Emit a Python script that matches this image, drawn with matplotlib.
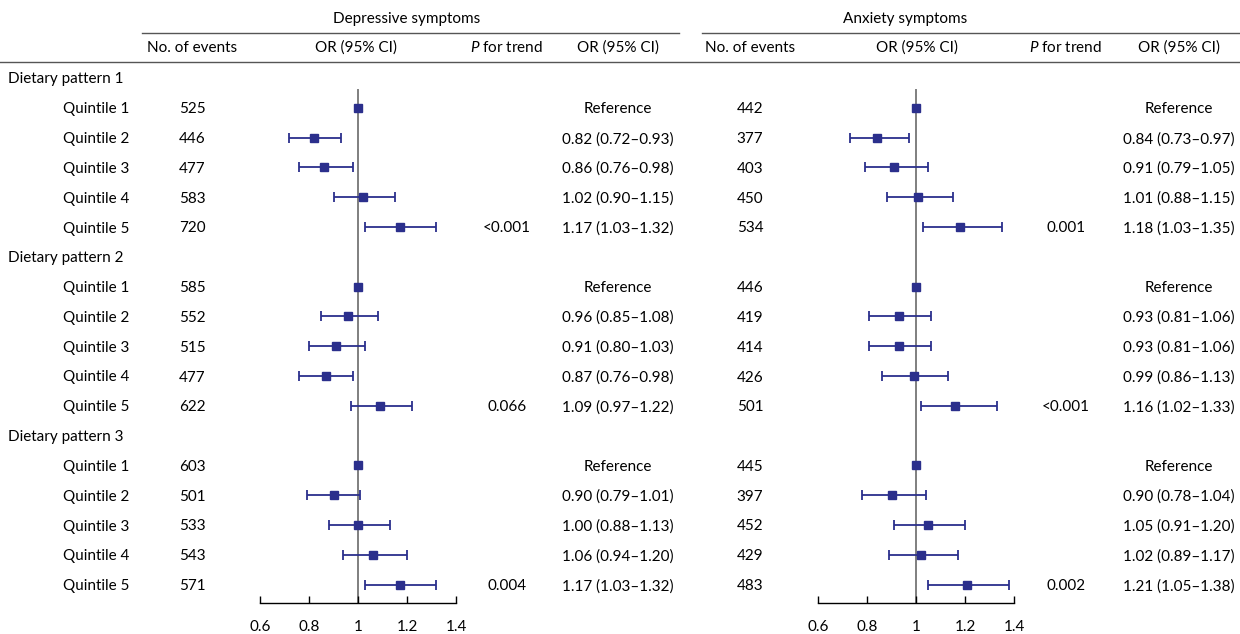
import matplotlib
matplotlib.use('Agg')
import matplotlib.pyplot as plt
import numpy as np

plt.rcParams['font.family'] = ['Lato', 'DejaVu Sans']
plt.rcParams['mathtext.fontset'] = 'custom'
plt.rcParams['mathtext.rm'] = 'Lato'
plt.rcParams['mathtext.it'] = 'Lato:italic'

patterns = ['Dietary pattern 1', 'Dietary pattern 2', 'Dietary pattern 3']
quintiles = ['Quintile 1', 'Quintile 2', 'Quintile 3', 'Quintile 4', 'Quintile 5']

# depressive symptoms
dep_events = [[525, 446, 477, 583, 720], [585, 552, 515, 477, 622], [603, 501, 533, 543, 571]]
dep_or = [[1.00, 0.82, 0.86, 1.02, 1.17], [1.00, 0.96, 0.91, 0.87, 1.09], [1.00, 0.90, 1.00, 1.06, 1.17]]
dep_lo = [[1.00, 0.72, 0.76, 0.90, 1.03], [1.00, 0.85, 0.80, 0.76, 0.97], [1.00, 0.79, 0.88, 0.94, 1.03]]
dep_hi = [[1.00, 0.93, 0.98, 1.15, 1.32], [1.00, 1.08, 1.03, 0.98, 1.22], [1.00, 1.01, 1.13, 1.20, 1.32]]
dep_p = ['<0.001', '0.066', '0.004']

# anxiety symptoms
anx_events = [[442, 377, 403, 450, 534], [446, 419, 414, 426, 501], [445, 397, 452, 429, 483]]
anx_or = [[1.00, 0.84, 0.91, 1.01, 1.18], [1.00, 0.93, 0.93, 0.99, 1.16], [1.00, 0.90, 1.05, 1.02, 1.21]]
anx_lo = [[1.00, 0.73, 0.79, 0.88, 1.03], [1.00, 0.81, 0.81, 0.86, 1.02], [1.00, 0.78, 0.91, 0.89, 1.05]]
anx_hi = [[1.00, 0.97, 1.05, 1.15, 1.35], [1.00, 1.06, 1.06, 1.13, 1.33], [1.00, 1.04, 1.20, 1.17, 1.38]]
anx_p = ['0.001', '<0.001', '0.002']

xticks = [0.6, 0.8, 1.0, 1.2, 1.4]
xticklabels = ['0.6', '0.8', '1', '1.2', '1.4']

W, H = 1240, 634
row0, dy = 78, 29.8
axis_y = 603
navy = '#2b2f8c'
fs = 11
toff = 1.5  # text nudge down

fig = plt.figure(figsize=(W / 100, H / 100), dpi=100)
bg = fig.add_axes([0, 0, 1, 1])
bg.set_xlim(0, W)
bg.set_ylim(H, 0)
bg.axis('off')


def rowy(i):
    return row0 + i * dy


# header lines and titles
bg.plot([142, 679], [33, 33], color='#555555', lw=1)
bg.plot([702, 1240], [33, 33], color='#555555', lw=1)
bg.plot([0, 1240], [62, 62], color='#555555', lw=1)
bg.text(407, 19, 'Depressive symptoms', ha='center', va='center', fontsize=fs)
bg.text(905, 19, 'Anxiety symptoms', ha='center', va='center', fontsize=fs)

sides = [
    dict(ev_x=192, or_x=356, p_x=507, txt_x=618, fx=260,
         events=dep_events, orv=dep_or, lo=dep_lo, hi=dep_hi, p=dep_p),
    dict(ev_x=750, or_x=917, p_x=1066, txt_x=1179, fx=818,
         events=anx_events, orv=anx_or, lo=anx_lo, hi=anx_hi, p=anx_p),
]

for s in sides:
    bg.text(s['ev_x'], 48, 'No. of events', ha='center', va='center', fontsize=fs)
    bg.text(s['or_x'], 48, 'OR (95% CI)', ha='center', va='center', fontsize=fs)
    bg.text(s['p_x'], 48, r'$P$ for trend', ha='center', va='center', fontsize=fs)
    bg.text(s['txt_x'], 48, 'OR (95% CI)', ha='center', va='center', fontsize=fs)

# row labels
for g, name in enumerate(patterns):
    base = g * 6
    bg.text(8, rowy(base) + toff, name, ha='left', va='center', fontsize=fs)
    for q, qname in enumerate(quintiles):
        bg.text(129, rowy(base + 1 + q) + toff, qname, ha='right', va='center', fontsize=fs)

for s in sides:
    ax = fig.add_axes([s['fx'] / W, (H - axis_y) / H, 196 / W, (axis_y - 62) / H])
    ax.set_xlim(0.6, 1.4)
    ax.set_ylim((axis_y - row0) / dy, (62 - row0) / dy)
    ax.patch.set_alpha(0)
    for sp in ['top', 'left', 'right']:
        ax.spines[sp].set_visible(False)
    ax.spines['bottom'].set_linewidth(1)
    ax.set_yticks([])
    ax.set_xticks(xticks)
    ax.set_xticklabels(xticklabels, fontsize=fs)
    ax.tick_params(axis='x', direction='in', length=5, width=1, pad=12)
    ax.plot([1, 1], [(axis_y - row0) / dy, (90 - row0) / dy], color='#7f7f7f', lw=1.4, zorder=1)

    for g in range(3):
        base = g * 6
        rows = np.arange(5) + base + 1
        orv = np.array(s['orv'][g])
        lo = np.array(s['lo'][g])
        hi = np.array(s['hi'][g])
        ax.plot(orv[:1], rows[:1], 's', color=navy, ms=5.5, zorder=3)
        ax.errorbar(orv[1:], rows[1:], xerr=[orv[1:] - lo[1:], hi[1:] - orv[1:]],
                    fmt='s', color=navy, ms=5.5, elinewidth=1.3, capsize=3.5,
                    capthick=1.3, zorder=3)
        for q in range(5):
            y = rowy(base + 1 + q) + toff
            bg.text(s['ev_x'], y, str(s['events'][g][q]), ha='center', va='center', fontsize=fs)
            if q == 0:
                label = 'Reference'
            else:
                label = '{:.2f} ({:.2f}\u2013{:.2f})'.format(orv[q], lo[q], hi[q])
            bg.text(s['txt_x'], y, label, ha='center', va='center', fontsize=fs)
        bg.text(s['p_x'], rowy(base + 5) + toff, s['p'][g], ha='center', va='center', fontsize=fs)

fig.savefig('out.png', dpi=100)
